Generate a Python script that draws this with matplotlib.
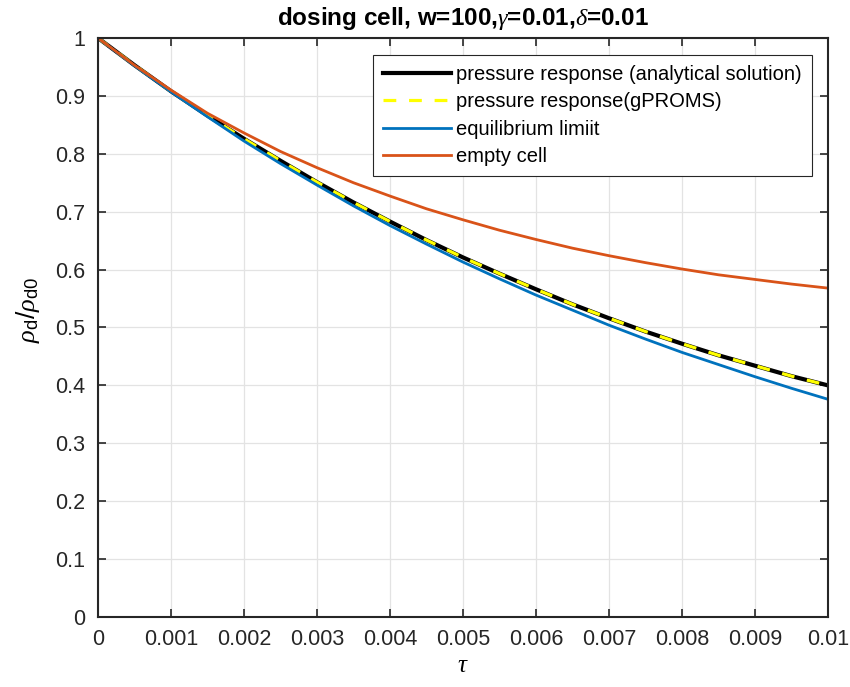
import numpy as np
import matplotlib.pyplot as plt

plt.rcParams['font.family'] = ['Liberation Sans', 'DejaVu Sans']
plt.rcParams['mathtext.fontset'] = 'custom'
plt.rcParams['mathtext.rm'] = 'Liberation Sans'
plt.rcParams['mathtext.it'] = 'Liberation Serif:italic'
plt.rcParams['mathtext.bf'] = 'Liberation Sans:bold'

tau = np.linspace(0, 0.01, 21)

analytical = [1.000, 0.953, 0.908, 0.866, 0.826, 0.788, 0.751, 0.716, 0.683, 0.651,
              0.621, 0.593, 0.566, 0.540, 0.516, 0.493, 0.472, 0.452, 0.434, 0.416, 0.400]
gproms = analytical
equilibrium = [1.000, 0.952, 0.907, 0.864, 0.822, 0.783, 0.746, 0.710, 0.676, 0.644,
               0.613, 0.584, 0.556, 0.530, 0.504, 0.480, 0.457, 0.436, 0.415, 0.395, 0.376]
empty = [1.000, 0.953, 0.910, 0.870, 0.836, 0.804, 0.776, 0.750, 0.727, 0.705,
         0.686, 0.668, 0.652, 0.637, 0.624, 0.612, 0.601, 0.591, 0.583, 0.575, 0.568]

fig = plt.figure(figsize=(8.5, 6.87), dpi=100)
ax = fig.add_axes([0.1153, 0.1019, 0.8588, 0.8428])

ax.plot(tau, analytical, color='black', lw=3.0, label='pressure response (analytical solution)')
ax.plot(tau, gproms, color='#ffff00', lw=2.3, ls=(0, (4, 4)), label='pressure response(gPROMS)')
ax.plot(tau, equilibrium, color='#0072bd', lw=2.0, label='equilibrium limiit')
ax.plot(tau, empty, color='#d95319', lw=2.0, label='empty cell')

ax.set_xlim(0, 0.01)
ax.set_ylim(0, 1)
ax.set_xticks(np.arange(0, 0.0101, 0.001))
ax.set_xticklabels(['0'] + ['%.3f' % v for v in np.arange(0.001, 0.0096, 0.001)] + ['0.01'])
ax.set_yticks(np.arange(0, 1.01, 0.1))
ax.set_yticklabels(['0'] + ['%.1f' % v for v in np.arange(0.1, 0.95, 0.1)] + ['1'])
ax.tick_params(direction='in', top=True, right=True, labelsize=15.5, length=6,
               width=1.2, colors='#262626', pad=9)
ax.grid(True, color='#e3e3e3', lw=0.9)
for s in ax.spines.values():
    s.set_linewidth(1.5)
    s.set_color('#262626')

ax.set_title(r'dosing cell, w=100,$\gamma$=0.01,$\delta$=0.01', fontsize=17.5,
             fontweight='bold', pad=9)
ax.set_xlabel(r'$\tau$', fontsize=18, labelpad=2)
ax.set_ylabel(r'$\rho_{\rm d}/\rho_{\rm d0}$', fontsize=19)
ax.yaxis.set_label_coords(-0.077, 0.53)

leg = ax.legend(loc='upper right', bbox_to_anchor=(0.978, 0.971), fontsize=14.5,
                handlelength=3.4, handletextpad=0.25, borderpad=0.5,
                labelspacing=0.42, fancybox=False, framealpha=1,
                edgecolor='#262626', borderaxespad=0)
leg.get_frame().set_linewidth(0.8)

fig.savefig('out.png', dpi=100)
